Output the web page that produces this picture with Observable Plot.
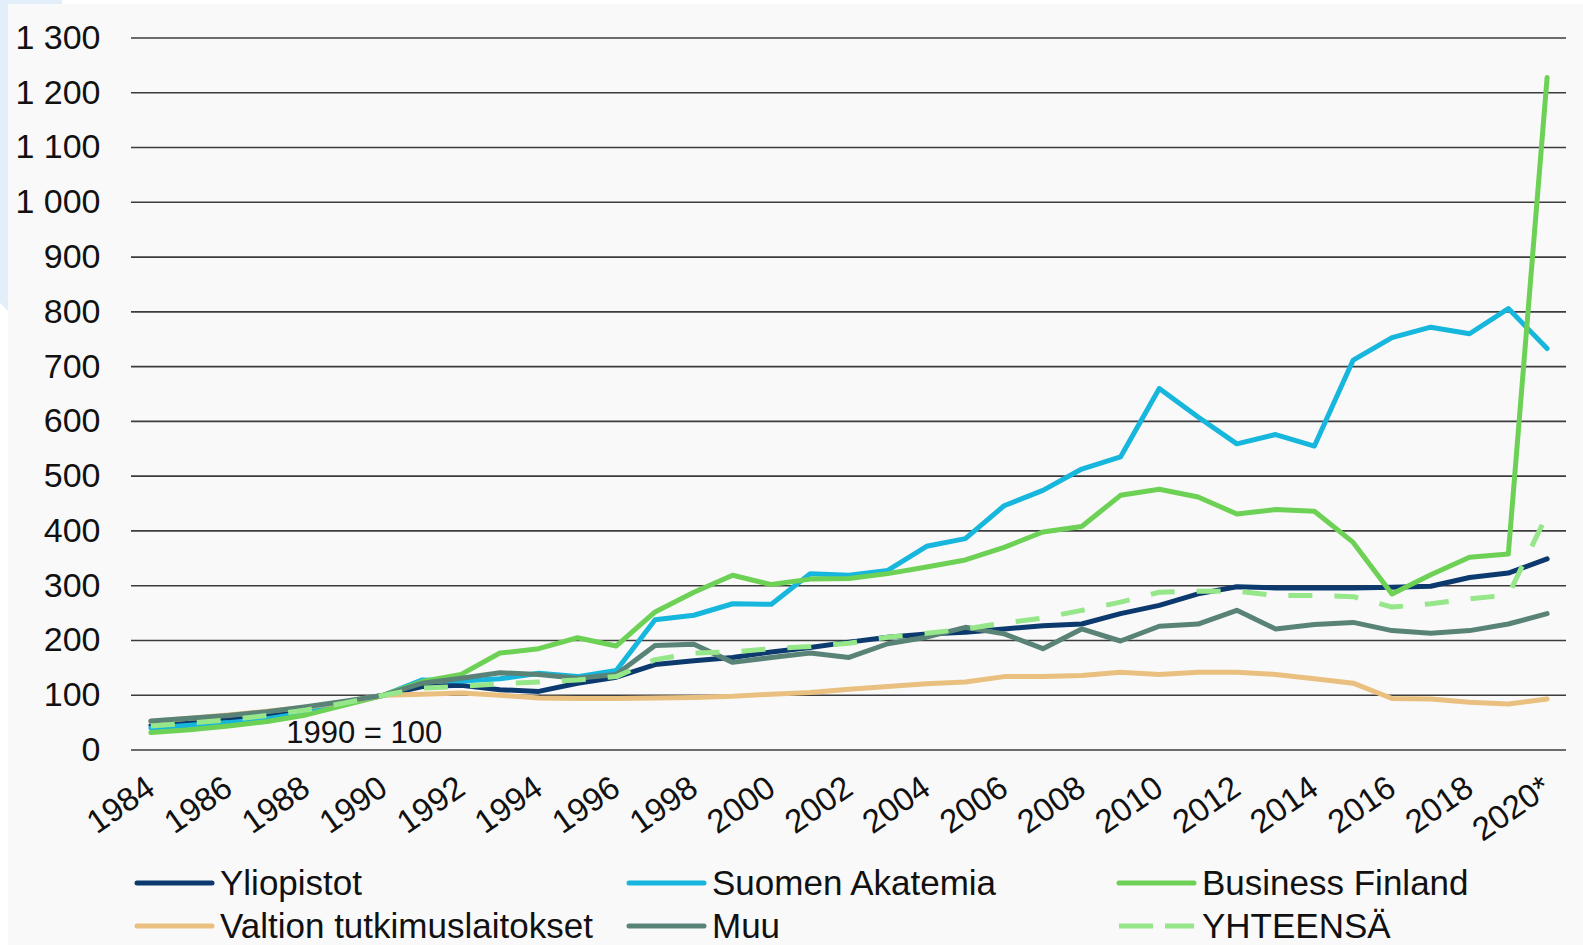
<!DOCTYPE html>
<html><head><meta charset="utf-8">
<script src="https://cdn.jsdelivr.net/npm/d3@7"></script>
<script src="https://cdn.jsdelivr.net/npm/@observablehq/plot@0.6"></script>
<style>
html,body{margin:0;padding:0;background:#fff;}
body{width:1583px;height:945px;position:relative;overflow:hidden;font-family:"Liberation Sans",Arial,sans-serif;}
#deco{position:absolute;left:0;top:0;width:62px;height:312px;background:#e2eef9;clip-path:polygon(0 0,100% 0,100% 92%,14% 100%,0 97%);}
#panel{position:absolute;left:8px;top:4px;right:0;bottom:0;background:#f9f9f9;}
#chart{position:absolute;left:0;top:0;}
.leg{position:absolute;display:flex;align-items:center;height:40px;font-size:35px;color:#111;white-space:nowrap;}
.leg svg{margin-right:5px;display:block;}
</style></head><body>
<div id="deco"></div><div id="panel"></div><div id="chart"></div><div id="legend"></div>
<script>
// ---- data ----
const years = d3.range(1984, 2021);
const seriesNames = ["Yliopistot", "Suomen Akatemia", "Business Finland", "Valtion tutkimuslaitokset", "Muu", "YHTEENSÄ"];
const yliopistot = [45,50,56,64,74,87,100,116,118,110,107,122,133,156,163,169,179,187,197,206,212,215,221,227,230,249,264,285,298,296,296,296,297,299,315,323,349];
const suomenAkatemia = [40,45,50,57,68,85,100,128,126,130,140,134,145,238,246,267,266,322,319,328,372,386,446,474,513,535,660,608,559,576,555,712,753,772,760,806,733];
const businessFinland = [32,37,44,52,64,82,100,125,138,177,185,205,190,252,288,319,302,312,313,322,334,347,370,398,408,465,476,462,431,439,436,379,285,320,352,358,1228];
const valtion = [52,58,64,71,78,88,100,102,104,100,95,94,94,95,96,98,102,105,111,116,121,124,134,134,136,142,138,142,142,138,130,122,94,93,87,84,93];
const muu = [53,58,63,70,79,89,100,122,131,141,138,131,138,191,193,160,169,177,169,194,206,224,212,185,221,199,226,230,255,221,229,233,218,213,218,230,249];
const yhteensa = [44,49,55,63,73,86,100,113,116,121,124,128,134,165,177,179,185,189,195,206,213,221,232,241,255,270,288,290,290,282,282,280,261,267,276,283,430];
const seriesValues = [yliopistot, suomenAkatemia, businessFinland, valtion, muu, yhteensa];
const xTickYears = [1984,1986,1988,1990,1992,1994,1996,1998,2000,2002,2004,2006,2008,2010,2012,2014,2016,2018,2020];
const xTickLabels = ["1984","1986","1988","1990","1992","1994","1996","1998","2000","2002","2004","2006","2008","2010","2012","2014","2016","2018","2020*"];
const yTicks = [0,100,200,300,400,500,600,700,800,900,1000,1100,1200,1300];
const yTickLabels = ["0","100","200","300","400","500","600","700","800","900","1 000","1 100","1 200","1 300"];
const note = [{year: 1989.5, value: 30, label: "1990 = 100"}];

// ---- styles ----
const colors = ["#0c3a6e", "#17b6dc", "#6cd155", "#e9c07f", "#5a8378", "#96e68a"];
const dashes = [null, null, null, null, null, "24 22"];

const rows = [];
seriesNames.forEach((s, i) => years.forEach((yr, j) => rows.push({series: s, year: yr, value: seriesValues[i][j]})));

const lineMarks = seriesNames.map((s, i) => Plot.line(rows.filter(r => r.series === s), {
  x: "year", y: "value", stroke: colors[i], strokeWidth: 5,
  strokeDasharray: dashes[i] || undefined,
  strokeLinecap: dashes[i] ? "butt" : "round", strokeLinejoin: "round"
}));

const chart = Plot.plot({
  width: 1583, height: 850,
  marginLeft: 131, marginRight: 17, marginTop: 37.5, marginBottom: 100.5,
  style: {background: "transparent", fontFamily: "Liberation Sans, Arial, sans-serif", color: "#111", overflow: "visible"},
  x: {type: "linear", domain: [1983.5, 2020.5]},
  y: {domain: [0, 1300]},
  marks: [
    Plot.ruleY(yTicks, {stroke: "#3c3c3c", strokeWidth: 1.6}),
    Plot.axisY({ticks: yTicks, tickFormat: d => yTickLabels[yTicks.indexOf(d)], tickSize: 0, tickPadding: 31, fontSize: 34, label: null}),
    Plot.axisX({ticks: xTickYears, tickFormat: d => xTickLabels[xTickYears.indexOf(d)], tickSize: 0, tickPadding: 34, tickRotate: -35, fontSize: 33, label: null}),
    Plot.text(note, {x: "year", y: "value", text: "label", fontSize: 31, textAnchor: "middle", lineAnchor: "middle", fill: "#111"}),
    ...lineMarks
  ]
});
document.getElementById("chart").appendChild(chart);

// ---- legend ----
const legPos = [[134, 883], [626, 883], [1116, 883], [134, 926], [626, 926], [1116, 926]];
const legend = document.getElementById("legend");
seriesNames.forEach((s, i) => {
  const d = document.createElement("div");
  d.className = "leg";
  d.style.left = legPos[i][0] + "px";
  d.style.top = (legPos[i][1] - 20) + "px";
  const dash = dashes[i] ? 'stroke-dasharray="34 12"' : "";
  const cap = dashes[i] ? "butt" : "round";
  d.innerHTML = `<svg width="81" height="10"><line x1="3" y1="5" x2="78" y2="5" stroke="${colors[i]}" stroke-width="5" stroke-linecap="${cap}" ${dash}/></svg><span>${s}</span>`;
  legend.appendChild(d);
});
</script>
</body></html>
